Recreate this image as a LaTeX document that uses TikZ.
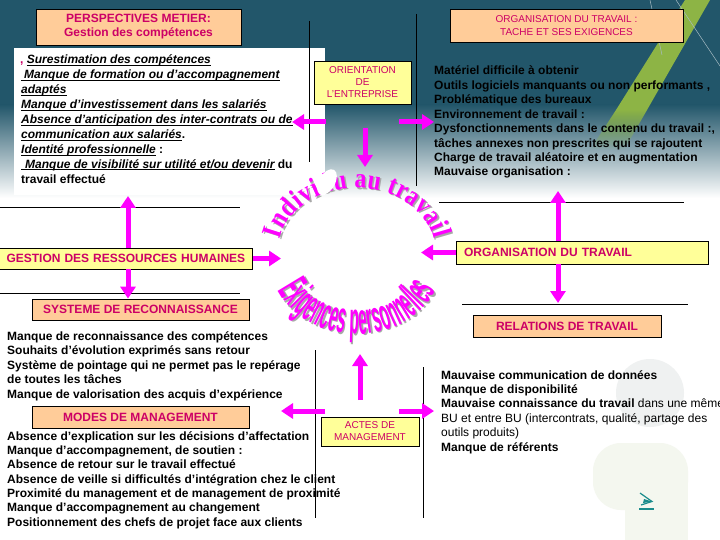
\documentclass[tikz,border=0pt]{standalone}
\usepackage{fontspec}
\setmainfont{Liberation Sans}
\newfontfamily\waserif{Liberation Serif}[FakeStretch=0.85]
\newfontfamily\wanarrow{Liberation Sans}[FakeStretch=0.35]
\usetikzlibrary{arrows.meta,decorations.text,fadings}
\definecolor{bgteal}{HTML}{22566A}
\definecolor{band}{HTML}{8DB445}
\definecolor{peach}{HTML}{FFCC99}
\definecolor{lyellow}{HTML}{FFFF99}
\definecolor{deep}{HTML}{CC0066}
\definecolor{mag}{HTML}{FF00FF}
\definecolor{shadowgray}{HTML}{A8A8A8}
\definecolor{pale}{HTML}{F4F7EF}
\definecolor{palegray}{HTML}{EFF1F1}
\definecolor{bulletc}{HTML}{1A8C8C}
\newcommand\ulin[1]{\leavevmode\setbox0=\hbox{#1}\rlap{\rule[-2.2pt]{\wd0}{1pt}}\box0}
\begin{document}
\begin{tikzpicture}[x=1pt,y=-1pt,
  box/.style={draw=black, line width=0.8pt, inner sep=0pt, text=deep},
  peachbox/.style={box, fill=peach},
  yellowbox/.style={box, fill=lyellow},
  titlef/.style={font=\fontsize{12}{14}\selectfont\bfseries},
  smallf/.style={font=\fontsize{10}{12}\selectfont, align=center},
  body/.style={font=\fontsize{12}{14.5}\selectfont\bfseries, anchor=base west, inner sep=0pt, text=black},
  rule/.style={draw=black, line width=0.8pt},
  bigarrow/.style={draw=mag, line width=5pt, -{Triangle[length=12pt,width=15pt]}}]
\useasboundingbox (0,0) rectangle (720,540);
% background
\fill[white] (0,0) rectangle (720,540);
\fill[bgteal] (0,0) rectangle (720,105);
\shade[top color=bgteal, bottom color=white] (0,104.5) rectangle (720,198);
\fill[band] (685,0) -- (710,0) -- (647,110) -- (616,110) -- cycle;
\fill[band, path fading=south] (616,110) -- (647,110) -- (624,150) -- (590,150) -- cycle;
\draw[white!60!bgteal, line width=0.5pt] (650,0) -- (662,55);
\draw[white!60!bgteal, line width=0.5pt] (676,0) -- (720,66);
\fill[palegray] (650,393) circle (34);
\fill[pale, rounded corners=28pt] (593,443) rectangle (688,510);
\fill[pale] (625,480) rectangle (688,541);
% white panel
\fill[white] (14,48) rectangle (325,195);
% divider lines
\draw[rule] (309,21) -- (309,162);
\draw[rule] (416,14) -- (416,186);
\draw[rule] (0,207) -- (240,207);
\draw[rule] (0,293) -- (240,293);
\draw[rule] (439,202) -- (684,202);
\draw[rule] (462,304) -- (688,304);
\draw[rule] (315,350) -- (315,518);
\draw[rule] (423,367) -- (423,518);
% title boxes
\node[peachbox, titlef, minimum width=205pt, minimum height=36pt, align=center] (persp) at (138.5,27) {PERSPECTIVES METIER:\\Gestion des compétences};
\node[peachbox, font=\fontsize{10}{12.5}\selectfont, align=center, minimum width=233pt, minimum height=33pt] (orgtache) at (566.5,25.5) {ORGANISATION DU TRAVAIL :\\TACHE ET SES EXIGENCES};
\node[yellowbox, smallf, minimum width=97pt, minimum height=43pt] (orient) at (362.5,82.5) {ORIENTATION\\DE\\L’ENTREPRISE};
\node[yellowbox, titlef, minimum height=21pt, text width=239pt, inner xsep=7pt, align=left] (grh) at (126,258.5) {GESTION DES RESSOURCES HUMAINES};
\node[peachbox, titlef, minimum width=217pt, minimum height=21pt] (sys) at (140.5,309.5) {SYSTEME DE RECONNAISSANCE};
\node[peachbox, titlef, minimum width=217pt, minimum height=22pt] (modes) at (140.5,417) {MODES DE MANAGEMENT};
\node[yellowbox, titlef, minimum height=23pt, text width=236pt, inner xsep=8pt, align=left] (org) at (582,252.5) {ORGANISATION DU TRAVAIL};
\node[peachbox, titlef, minimum width=188pt, minimum height=22pt] (rel) at (567,326) {RELATIONS DE TRAVAIL};
\node[yellowbox, smallf, minimum width=98pt, minimum height=29pt] (actes) at (370,431.5) {ACTES DE\\MANAGEMENT};
% top-left text
\node[body] (p1) at (20,64) {\textcolor{deep}{,} {\itshape\ulin{Surestimation des compétences}}};
\node[body] (p2) at (21,78.9) {\itshape\ulin{\hspace{3pt}Manque de formation ou d’accompagnement}};
\node[body] (p3) at (21,93.8) {\itshape\ulin{adaptés}};
\node[body] (p4) at (21,108.7) {\itshape\ulin{Manque d’investissement dans les salariés}};
\node[body] (p5) at (21,123.6) {\itshape\ulin{Absence d’anticipation des inter-contrats ou de}};
\node[body] (p6) at (21,138.5) {{\itshape\ulin{communication aux salariés}}.};
\node[body] (p7) at (21,153.4) {{\itshape\ulin{Identité professionnelle}} :};
\node[body] (p8) at (21,168.3) {{\itshape\ulin{\hspace{4pt}Manque de visibilité sur utilité et/ou devenir}} du};
\node[body] (p9) at (21,183.2) {travail effectué};
% top-right text
\node[body] (r1) at (434,75) {Matériel difficile à obtenir};
\node[body] (r2) at (434,89.4) {Outils logiciels manquants ou non performants ,};
\node[body] (r3) at (434,103.9) {Problématique des bureaux};
\node[body] (r4) at (434,118.3) {Environnement de travail :};
\node[body] (r5) at (434,132.7) {Dysfonctionnements dans le contenu du travail :,};
\node[body] (r6) at (434,147.2) {tâches annexes non prescrites qui se rajoutent};
\node[body] (r7) at (434,161.6) {Charge de travail aléatoire et en augmentation};
\node[body] (r8) at (434,176) {Mauvaise organisation :};
% left middle text
\node[body] (s1) at (7,340) {Manque de reconnaissance des compétences};
\node[body] (s2) at (7,354.5) {Souhaits d’évolution exprimés sans retour};
\node[body] (s3) at (7,369) {Système de pointage qui ne permet pas le repérage};
\node[body] (s4) at (7,383.5) {de toutes les tâches};
\node[body] (s5) at (7,398) {Manque de valorisation des acquis d’expérience};
% bottom-left text
\node[body] (m1) at (7,440) {Absence d’explication sur les décisions d’affectation};
\node[body] (m2) at (7,454.3) {Manque d’accompagnement, de soutien :};
\node[body] (m3) at (7,468.7) {Absence de retour sur le travail effectué};
\node[body] (m4) at (7,483) {Absence de veille si difficultés d’intégration chez le client};
\node[body] (m5) at (7,497.3) {Proximité du management et de management de proximité};
\node[body] (m6) at (7,511.7) {Manque d’accompagnement au changement};
\node[body] (m7) at (7,526) {Positionnement des chefs de projet face aux clients};
% bottom-right text
\node[body] (t1) at (441,379) {Mauvaise communication de données};
\node[body] (t2) at (441,393.4) {Manque de disponibilité};
\node[body] (t3) at (441,407.8) {Mauvaise connaissance du travail {\mdseries dans une même}};
\node[body] (t4) at (441,422.2) {\mdseries BU et entre BU (intercontrats, qualité, partage des};
\node[body] (t5) at (441,436.6) {\mdseries outils produits)};
\node[body] (t6) at (441,451) {Manque de référents};
% arrow end points
\coordinate (oL0) at (326,122); \coordinate (oL1) at (292,122);
\coordinate (oR0) at (399,122); \coordinate (oR1) at (434,122);
\coordinate (oD0) at (365,128); \coordinate (oD1) at (365,167);
\coordinate (grhU) at (128,196);
\coordinate (grhR) at (281,258.5);
\coordinate (orgU) at (558,191);
\coordinate (orgD) at (558,303);
\coordinate (orgL) at (421,252.5);
\coordinate (aU0) at (360,400); \coordinate (aU1) at (360,354);
\coordinate (aL0) at (325,411); \coordinate (aL1) at (281,411);
\coordinate (aR0) at (399,411); \coordinate (aR1) at (434,411);
% arrows
\draw[bigarrow] (oL0) -- (oL1);
\draw[bigarrow] (oR0) -- (oR1);
\draw[bigarrow] (oD0) -- (oD1);
\draw[bigarrow] (grh.north -| grhU) -- (grhU);
\draw[bigarrow] (grh.east) -- (grhR);
\draw[bigarrow] (grh.south -| grhU) -- (sys.north -| grhU);
\draw[bigarrow] (org.north -| orgU) -- (orgU);
\draw[bigarrow] (org.south -| orgU) -- (orgD);
\draw[bigarrow] (org.west) -- (orgL);
\draw[bigarrow] (aU0) -- (aU1);
\draw[bigarrow] (aL0) -- (aL1);
\draw[bigarrow] (aR0) -- (aR1);
% word art
\coordinate (wc) at (357,250);
\coordinate (wb) at (357,262);
\path[decorate, decoration={text along path, text align=fit to path,
  text={|\waserif\bfseries\fontsize{28}{28}\selectfont\color{shadowgray}|Individu au travail}}]
  ([shift={(1.5,1.5)}]wc) ++(190:78 and 62) arc[start angle=190, end angle=350, x radius=78, y radius=62];
\path[decorate, decoration={text along path, text align=fit to path,
  text={|\waserif\bfseries\fontsize{28}{28}\selectfont\color{mag}|Individu au travail}}]
  (wc) ++(190:78 and 62) arc[start angle=190, end angle=350, x radius=78, y radius=62];
\fill[white, rotate around={-30:(327,182)}] (327,182) ellipse (8 and 14);
\path[decorate, decoration={text along path, text align=fit to path,
  text={|\wanarrow\bfseries\fontsize{44}{44}\selectfont\color{shadowgray}|Exigences personnelles}}]
  ([shift={(1.5,1.5)}]wb) ++(157:86 and 72) arc[start angle=157, end angle=23, x radius=86, y radius=72];
\path[decorate, decoration={text along path, text align=fit to path,
  text={|\wanarrow\bfseries\fontsize{44}{44}\selectfont\color{mag}|Exigences personnelles}}]
  (wb) ++(157:86 and 72) arc[start angle=157, end angle=23, x radius=86, y radius=72];
% bullet glyph
\draw[bulletc, line width=1.2pt] (640,493) -- (652,501.5) -- (641,505);
\fill[bulletc] (644,499) -- (652,501.5) -- (643,503) -- cycle;
\fill[bulletc] (639,507.5) rectangle (654,510);
\end{tikzpicture}
\end{document}
